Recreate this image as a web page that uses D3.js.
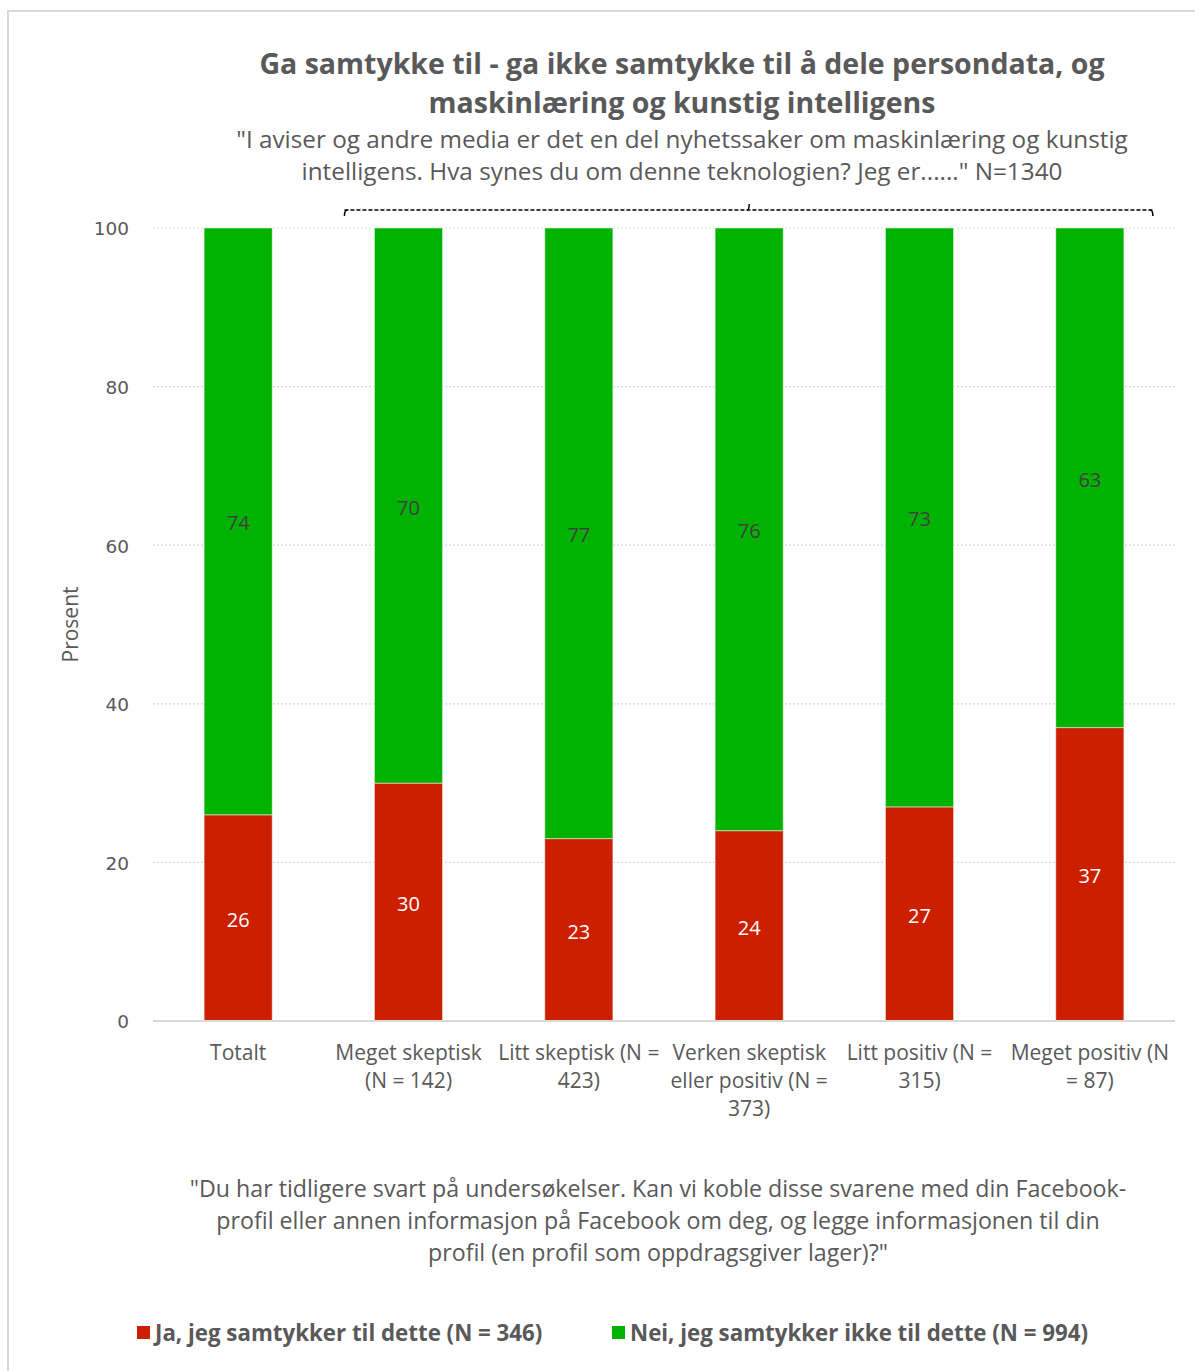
<!DOCTYPE html>
<html>
<head>
<meta charset="utf-8">
<script src="https://cdn.jsdelivr.net/npm/d3@7"></script>
<style>
  html, body { margin: 0; padding: 0; background: #fff; }
  svg { display: block; }
  text { font-family: "Open Sans", sans-serif; }
</style>
</head>
<body>
<svg id="chart" width="1195" height="1371"></svg>
<script>
// ---- data ----
const categories = [
  "Totalt",
  "Meget skeptisk\n(N = 142)",
  "Litt skeptisk (N =\n423)",
  "Verken skeptisk\neller positiv (N =\n373)",
  "Litt positiv (N =\n315)",
  "Meget positiv (N\n= 87)"
];
const seriesNames = ["Ja, jeg samtykker til dette (N = 346)", "Nei, jeg samtykker ikke til dette (N = 994)"];
const jaValues = [26, 30, 23, 24, 27, 37];
const neiValues = [74, 70, 77, 76, 73, 63];
const yTicks = [0, 20, 40, 60, 80, 100];
const titleLines = ["Ga samtykke til - ga ikke samtykke til å dele persondata, og", "maskinlæring og kunstig intelligens"];
const subtitleLines = ["\"I aviser og andre media er det en del nyhetssaker om maskinlæring og kunstig", "intelligens. Hva synes du om denne teknologien? Jeg er......\" N=1340"];
const footLines = ["\"Du har tidligere svart på undersøkelser. Kan vi koble disse svarene med din Facebook-", "profil eller annen informasjon på Facebook om deg, og legge informasjonen til din", "profil (en profil som oppdragsgiver lager)?\""];
const yAxisTitle = "Prosent";

// ---- styles ----
const colors = ["#cc1f00", "#00b300"];
const textGray = "#595959";

const svg = d3.select("#chart");

// outer border
svg.append("rect").attr("x", 8).attr("y", 11).attr("width", 1200).attr("height", 1400)
  .attr("fill", "none").attr("stroke", "#d9d9d9").attr("stroke-width", 2);

const plot = { left: 153, right: 1175, top: 228, bottom: 1021 };

const x = d3.scaleBand().domain(categories).range([plot.left, plot.right]).paddingInner(0.6).paddingOuter(0.3);
const y = d3.scaleLinear().domain([0, 100]).range([plot.bottom, plot.top]);

// gridlines
svg.append("g").selectAll("line").data(yTicks.filter(d => d > 0)).join("line")
  .attr("x1", plot.left).attr("x2", plot.right)
  .attr("y1", d => y(d)).attr("y2", d => y(d))
  .attr("stroke", "#d9d9d9").attr("stroke-width", 1.2).attr("stroke-dasharray", "2,2");

// y axis ticks
const yAxis = d3.axisLeft(y).tickValues(yTicks).tickSize(0).tickPadding(0);
const gy = svg.append("g").attr("transform", `translate(${129},1)`).call(yAxis);
gy.select(".domain").remove();
gy.selectAll("text").attr("fill", textGray).style("font-family", "'DejaVu Sans', sans-serif").style("font-size", "18.5px");

// y title
svg.append("text").attr("transform", `translate(78,${(plot.top + plot.bottom) / 2}) rotate(-90)`)
  .attr("text-anchor", "middle").attr("fill", textGray).style("font-size", "21px").text(yAxisTitle);

// stacked bars
const rows = categories.map((c, i) => ({ cat: c, ja: jaValues[i], nei: neiValues[i] }));
const stack = d3.stack().keys(["ja", "nei"])(rows);

const layers = svg.append("g").selectAll("g").data(stack).join("g")
  .attr("fill", (d, i) => colors[i]);
layers.selectAll("rect").data(d => d).join("rect")
  .attr("x", d => x(d.data.cat))
  .attr("width", x.bandwidth())
  .attr("y", d => y(d[1]))
  .attr("height", d => y(d[0]) - y(d[1]))
  .attr("stroke", "#ffffff").attr("stroke-opacity", 0.5).attr("stroke-width", 1);

// bar labels
stack.forEach((layer, li) => {
  svg.append("g").selectAll("text").data(layer).join("text")
    .attr("x", d => x(d.data.cat) + x.bandwidth() / 2)
    .attr("y", d => y((d[0] + d[1]) / 2) + 2)
    .attr("dy", "0.35em")
    .attr("text-anchor", "middle")
    .attr("fill", li === 0 ? "#ffffff" : "#404040")
    .style("font-size", "20px")
    .text(d => d[1] - d[0]);
});

// baseline
svg.append("line").attr("x1", plot.left).attr("x2", plot.right)
  .attr("y1", y(0)).attr("y2", y(0)).attr("stroke", "#d9d9d9").attr("stroke-width", 2);

// x axis labels
const xAxis = d3.axisBottom(x).tickSize(0).tickFormat("");
const gx = svg.append("g").attr("transform", `translate(0,${plot.bottom})`).call(xAxis);
gx.select(".domain").remove();
gx.selectAll(".tick").each(function (d) {
  const t = d3.select(this).append("text").attr("text-anchor", "middle").attr("fill", textGray)
    .style("font-size", "21px");
  d.split("\n").forEach((line, i) => {
    t.append("tspan").attr("x", 0).attr("y", 39 + i * 28).text(line);
  });
});

// bracket above bars (categories 2..6)
const bx1 = x(categories[1]) - 30, bx2 = x(categories[5]) + x.bandwidth() + 29;
const by = 210;
const mid = x(categories[3]) + x.bandwidth() / 2;
const bracket = svg.append("g").attr("stroke", "#000").attr("stroke-width", 1.5).attr("fill", "none");
bracket.append("line").attr("x1", bx1).attr("x2", bx2).attr("y1", by).attr("y2", by).attr("stroke-dasharray", "4,2");
bracket.append("path").attr("d", `M${bx1},${by + 6} Q${bx1},${by} ${bx1 + 3},${by}`);
bracket.append("path").attr("d", `M${bx2},${by + 6} Q${bx2},${by} ${bx2 - 3},${by}`);
bracket.append("path").attr("d", `M${mid - 2},${by} Q${mid},${by} ${mid},${by - 6}`);

// titles
const center = 682;
svg.append("g").selectAll("text").data(titleLines).join("text")
  .attr("x", center).attr("y", (d, i) => 74 + i * 39)
  .attr("text-anchor", "middle").attr("fill", textGray)
  .style("font-size", "28.5px").style("font-weight", "bold").text(d => d);
svg.append("g").selectAll("text").data(subtitleLines).join("text")
  .attr("x", center).attr("y", (d, i) => 148 + i * 32)
  .attr("text-anchor", "middle").attr("fill", textGray)
  .style("font-size", "24.3px").text(d => d);

// footnote
svg.append("g").selectAll("text").data(footLines).join("text")
  .attr("x", 658).attr("y", (d, i) => 1197 + i * 32)
  .attr("text-anchor", "middle").attr("fill", textGray)
  .style("font-size", "23.2px").text(d => d);

// legend
const legendX = [137, 612];
const lg = svg.append("g").selectAll("g").data(seriesNames).join("g")
  .attr("transform", (d, i) => `translate(${legendX[i]},1326)`);
lg.append("rect").attr("width", 13).attr("height", 13).attr("fill", (d, i) => colors[i]);
lg.append("text").attr("x", 18).attr("y", 15).attr("fill", textGray)
  .style("font-size", "22.3px").style("font-weight", "bold").text(d => d);
</script>
</body>
</html>
